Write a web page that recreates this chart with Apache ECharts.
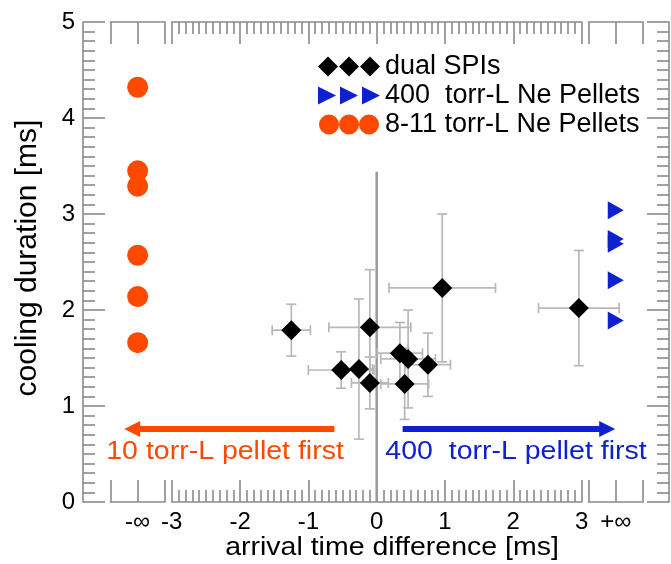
<!DOCTYPE html>
<html><head><meta charset="utf-8">
<script src="https://cdn.jsdelivr.net/npm/echarts@6/dist/echarts.min.js"></script>
<style>html,body{margin:0;padding:0;background:#fff}#c{width:671px;height:564px}</style>
</head><body><div id="c"></div>
<script>
// ---------------- data ----------------
const spiX    = [-1.25, -0.10, -0.52, -0.26, -0.10, 0.96, 0.34, 0.46, 0.75, 0.41, 2.96];
const spiY    = [ 1.79,  1.82, 1.375, 1.385,  1.24, 2.23, 1.55, 1.49, 1.43, 1.23, 2.02];
const spiXErr = [ 0.28,  0.60,  0.48,  0.20,  0.27, 0.78, 0.33, 0.40, 0.33, 0.35, 0.59];
const spiYErr = [ 0.27,  0.60,  0.19,  0.73,  0.27, 0.77, 0.32, 0.51, 0.33, 0.37, 0.60];
const smallPelletY = [4.32, 3.45, 3.29, 2.57, 2.14, 1.66];   // plotted at -infinity
const largePelletY = [3.04, 2.74, 2.69, 2.31, 1.89];         // plotted at +infinity
const negInfX = -3.5, posInfX = 3.5;
const zeroLine = [[0, 0], [0, 3.44]];
const xTicks = [-3, -2, -1, 0, 1, 2, 3];
const yTicks = [0, 1, 2, 3, 4, 5];
const infLabels = ['-\u221e', '+\u221e'];
const legendNames = ['dual SPIs', '400  torr-L Ne Pellets', '8-11 torr-L Ne Pellets'];
const arrowTexts = ['10 torr-L pellet first', '400  torr-L pellet first'];
const arrowTextPos = [[-2.22, 0.52], [2.04, 0.52]];
const orangeArrow = [[-0.62, 0.76], [-3.58, 0.76]];
const blueArrow = [[0.38, 0.76], [3.375, 0.76]];
const xTitle = 'arrival time difference [ms]';
const yTitle = 'cooling duration [ms]';

// ---------------- layout / style ----------------
const FONT = '"Liberation Sans", Arial, Helvetica, sans-serif';
const AX = '#8a8a8a';
const ORANGE = '#ff4800';
const BLUE = '#0f20cf';
const gLeft = 83, gTop = 22, gW = 586, gH = 480;
const xMin = -4.3, xMax = 4.28;
const unit = gW / (xMax - xMin);
const px = v => gLeft + (v - xMin) * unit;
const segs = [[-3.9, -3.1], [xTicks[0], xTicks[xTicks.length - 1]], [3.1, 3.9]];

const grids = [{left: gLeft, top: gTop, width: gW, height: gH}];
segs.forEach(s => grids.push({left: px(s[0]), top: gTop, width: px(s[1]) - px(s[0]), height: gH}));

const lineSt = {color: AX, width: 1.6};
const common = {
  axisLine: {show: true, onZero: false, lineStyle: lineSt},
  axisTick: {show: true, inside: true, length: 22, lineStyle: lineSt},
  splitLine: {show: false}
};
const labelSt = {margin: 8, fontSize: 24, color: '#000', fontFamily: FONT};

const xAxes = [{gridIndex: 0, type: 'value', min: xMin, max: xMax, show: false, axisLine: {onZero: false}}];
segs.forEach((s, i) => {
  const mid = i === 1;
  const base = mid ? {min: s[0], max: s[1], interval: 1} : {min: 0, max: 2, interval: 1};
  ['bottom', 'top'].forEach(pos => {
    xAxes.push(Object.assign({gridIndex: i + 1, type: 'value', position: pos}, base, common, {
      minorTick: mid ? {show: true, splitNumber: 10, length: 12, lineStyle: lineSt} : {show: false},
      axisLabel: pos === 'bottom'
        ? Object.assign({show: true, showMinLabel: true, showMaxLabel: true,
            formatter: mid ? (v => String(v)) : (v => v === 1 ? infLabels[i === 0 ? 0 : 1] : '')}, labelSt)
        : {show: false}
    }));
  });
});

const yAxes = [0, 1].map(k => Object.assign({
  gridIndex: 0, type: 'value', min: yTicks[0], max: yTicks[yTicks.length - 1], interval: 1,
  position: k ? 'right' : 'left'}, common, {
  minorTick: {show: true, splitNumber: 10, length: 12, lineStyle: lineSt},
  axisLabel: k ? {show: false} : Object.assign({show: true}, labelSt)
}));
segs.forEach((s, i) => yAxes.push({gridIndex: i + 1, type: 'value', min: 0, max: 5, show: false, axisLine: {onZero: false}}));

function renderErr(params, api) {
  const x = api.value(0), y = api.value(1), ex = api.value(2), ey = api.value(3);
  const L = api.coord([x - ex, y]), R = api.coord([x + ex, y]);
  const T = api.coord([x, y + ey]), B = api.coord([x, y - ey]);
  const c = 5;
  const st = {stroke: '#b8b8b8', lineWidth: 1.7, fill: null};
  const ln = (x1, y1, x2, y2) => ({type: 'line', shape: {x1, y1, x2, y2}, style: st});
  return {type: 'group', children: [
    ln(L[0], L[1], R[0], R[1]), ln(L[0], L[1] - c, L[0], L[1] + c), ln(R[0], R[1] - c, R[0], R[1] + c),
    ln(T[0], T[1], B[0], B[1]), ln(T[0] - c, T[1], T[0] + c, T[1]), ln(B[0] - c, B[1], B[0] + c, B[1])
  ]};
}

const ICONS = [
  'path://M10,0L20,10L10,20L0,10Z M31,0L41,10L31,20L21,10Z M52,0L62,10L52,20L42,10Z',
  'path://M0,0L18,9L0,18Z M22,0L40,9L22,18Z M44,0L62,9L44,18Z',
  'path://M0,10.5a10.5,10.5 0 1,0 21,0a10.5,10.5 0 1,0 -21,0Z M21,10.5a10.5,10.5 0 1,0 21,0a10.5,10.5 0 1,0 -21,0Z M42,10.5a10.5,10.5 0 1,0 21,0a10.5,10.5 0 1,0 -21,0Z'
];

const option = {
  animation: false,
  backgroundColor: '#fff',
  grid: grids,
  xAxis: xAxes,
  yAxis: yAxes,
  legend: {
    orient: 'vertical', left: 313, top: 47, padding: 5, itemGap: 0,
    itemWidth: 62, itemHeight: 20, selectedMode: false,
    textStyle: {fontSize: 27, fontFamily: FONT, color: '#000', lineHeight: 29},
    data: legendNames.map((n, i) => ({name: n, icon: ICONS[i]}))
  },
  series: [
    {type: 'line', name: 'zero', xAxisIndex: 0, yAxisIndex: 0, data: zeroLine, symbol: 'none',
     lineStyle: {color: '#9a9a9a', width: 2.5}, z: 1, silent: true,
     markLine: {silent: true, symbol: ['none', 'triangle'], symbolSize: 16, animation: false,
       label: {show: false}, emphasis: {disabled: true},
       data: [
         [{coord: orangeArrow[0], lineStyle: {color: ORANGE, width: 6, type: 'solid'}, itemStyle: {color: ORANGE}},
          {coord: orangeArrow[1]}],
         [{coord: blueArrow[0], lineStyle: {color: BLUE, width: 6, type: 'solid'}, itemStyle: {color: BLUE}},
          {coord: blueArrow[1]}]
       ]}},
    {type: 'custom', name: 'err', xAxisIndex: 0, yAxisIndex: 0, renderItem: renderErr,
     data: spiX.map((x, i) => [x, spiY[i], spiXErr[i], spiYErr[i]]), encode: {x: 0, y: 1}, z: 2, silent: true},
    {type: 'scatter', name: legendNames[0], xAxisIndex: 0, yAxisIndex: 0,
     data: spiX.map((x, i) => [x, spiY[i]]), symbol: 'diamond', symbolSize: 20,
     itemStyle: {color: '#000', opacity: 1}, z: 5},
    {type: 'scatter', name: legendNames[1], xAxisIndex: 0, yAxisIndex: 0,
     data: largePelletY.map(y => [posInfX, y]), symbol: 'triangle', symbolRotate: -90, symbolSize: [18, 16],
     itemStyle: {color: BLUE, opacity: 1}, z: 5},
    {type: 'scatter', name: legendNames[2], xAxisIndex: 0, yAxisIndex: 0,
     data: smallPelletY.map(y => [negInfX, y]), symbol: 'circle', symbolSize: 21,
     itemStyle: {color: ORANGE, opacity: 1}, z: 5}
  ]
};

const chart = echarts.init(document.getElementById('c'), null, {renderer: 'canvas'});
chart.setOption(option);

const p0 = chart.convertToPixel({gridIndex: 0}, arrowTextPos[0]);
const p1 = chart.convertToPixel({gridIndex: 0}, arrowTextPos[1]);
chart.setOption({
  graphic: [
    {type: 'text', x: p0[0], y: p0[1], scaleX: 1.14,
     style: {text: arrowTexts[0], fontSize: 25, fontFamily: FONT, fill: ORANGE, align: 'center', verticalAlign: 'middle'}},
    {type: 'text', x: p1[0], y: p1[1], scaleX: 1.14,
     style: {text: arrowTexts[1], fontSize: 25, fontFamily: FONT, fill: BLUE, align: 'center', verticalAlign: 'middle'}},
    {type: 'text', x: 392, y: 548, scaleX: 1.14,
     style: {text: xTitle, fontSize: 25, fontFamily: FONT, fill: '#000', align: 'center', verticalAlign: 'middle'}},
    {type: 'text', x: 28, y: 258, rotation: Math.PI / 2,
     style: {text: yTitle, fontSize: 30, fontFamily: FONT, fill: '#000', align: 'center', verticalAlign: 'middle'}}
  ]
});
</script>
</body></html>
